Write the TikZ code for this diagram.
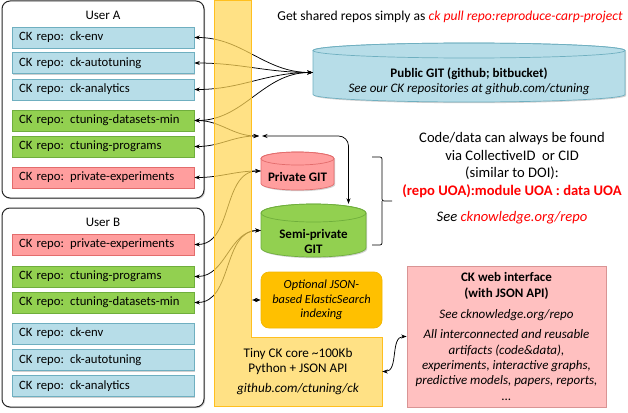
\documentclass[tikz,border=0pt]{standalone}
\usepackage{fontspec}
\setmainfont{Carlito}
\usetikzlibrary{arrows.meta,shadows}

\begin{document}
\begin{tikzpicture}[x=1pt,y=1pt]
    % -----------------------------
    % Parameters (tweak as needed)
    % -----------------------------
    \def\lw{0.7pt}       % line width of boxes
    \def\repoX{103}      % centre x of all repo boxes
    \def\userW{202}      % width of the user frames

    % Colours
    \definecolor{blueFill}{HTML}{B7DDE8}
    \definecolor{blueDraw}{HTML}{6FAFC0}
    \definecolor{greenFill}{HTML}{92D050}
    \definecolor{greenDraw}{HTML}{6FAE3C}
    \definecolor{redFill}{HTML}{FF9E9E}
    \definecolor{redDraw}{HTML}{E36C6C}
    \definecolor{idxFill}{HTML}{FFC000}
    \definecolor{idxDraw}{HTML}{F2B600}
    \definecolor{webFill}{HTML}{FFC0C0}
    \definecolor{webDraw}{HTML}{D99494}
    \definecolor{coreFill}{HTML}{FFD656}
    \definecolor{coreDraw}{HTML}{FFBF1F}
    \definecolor{ckred}{HTML}{FF0000}

    % -----------------------------
    % Styles and helpers
    % -----------------------------
    \tikzset{
      softshadow/.style={drop shadow={shadow xshift=1.2pt, shadow yshift=-1.2pt, opacity=0.3, fill=black!60}},
      userbox/.style={draw=black!85, line width=1pt, rounded corners=8pt, fill=white,
                      minimum width=\userW, softshadow},
      repo/.style={line width=\lw, minimum height=21pt, text width=168pt, inner xsep=7pt,
                   inner ysep=0pt, align=left, font=\fontsize{12.7}{14}\selectfont, softshadow},
      bluerepo/.style={repo, draw=blueDraw, fill=blueFill},
      greenrepo/.style={repo, draw=greenDraw, fill=greenFill},
      redrepo/.style={repo, draw=redDraw, fill=redFill},
      label13/.style={align=center, font=\fontsize{13}{15}\selectfont},
      link/.style={{Stealth[length=5.5pt,width=4pt]}-{Stealth[length=5.5pt,width=4pt]}, line width=0.75pt},
    }

    % Cylinder for a git store: name, left, top, right, bottom, cap radius, fill, draw
    \newcommand{\gitcyl}[8]{%
      \pgfmathsetmacro{\cylcx}{(#2+#4)/2}
      \pgfmathsetmacro{\cylrx}{(#4-#2)/2}
      \filldraw[fill=#7, draw=#8, line width=\lw, softshadow] (#2,-#3-#6) -- (#2,-#5+#6)
        arc[start angle=180, end angle=360, x radius=\cylrx, y radius=#6]
        -- (#4,-#3-#6)
        arc[start angle=0, end angle=180, x radius=\cylrx, y radius=#6] -- cycle;
      \draw[draw=#8, line width=\lw] (\cylcx,-#3-#6) ellipse[x radius=\cylrx, y radius=#6];
      \node[inner sep=0pt, minimum width=#4-#2, minimum height=#5-#3] (#1) at (\cylcx,{-(#3+#5)/2}) {};
    }

    \useasboundingbox (0,0) rectangle (628,-412);

    % -----------------------------
    % User frames
    % -----------------------------
    \node[userbox, minimum height=197] (userA) at (\repoX,-99.5) {};
    \node[userbox, minimum height=199] (userB) at (\repoX,-307.5) {};
    \node[label13] (userAtitle) at (\repoX,-15) {User A};
    \node[label13] (userBtitle) at (\repoX,-222) {User B};

    % Repos of user A
    \node[bluerepo]  (a-env)  at (\repoX,-37.5)  {CK repo:\kern2pt\ ck-env};
    \node[bluerepo]  (a-tune) at (\repoX,-63)    {CK repo:\kern2pt\ ck-autotuning};
    \node[bluerepo]  (a-ana)  at (\repoX,-89.5)  {CK repo:\kern2pt\ ck-analytics};
    \node[greenrepo] (a-data) at (\repoX,-120.5) {CK repo:\kern2pt\ ctuning-datasets-min};
    \node[greenrepo] (a-prog) at (\repoX,-146.5) {CK repo:\kern2pt\ ctuning-programs};
    \node[redrepo]   (a-priv) at (\repoX,-177.5) {CK repo:\kern2pt\ private-experiments};

    % Repos of user B
    \node[redrepo]   (b-priv) at (\repoX,-244.5) {CK repo:\kern2pt\ private-experiments};
    \node[greenrepo] (b-prog) at (\repoX,-276.5) {CK repo:\kern2pt\ ctuning-programs};
    \node[greenrepo] (b-data) at (\repoX,-302.5) {CK repo:\kern2pt\ ctuning-datasets-min};
    \node[bluerepo]  (b-env)  at (\repoX,-333.5) {CK repo:\kern2pt\ ck-env};
    \node[bluerepo]  (b-tune) at (\repoX,-360)   {CK repo:\kern2pt\ ck-autotuning};
    \node[bluerepo]  (b-ana)  at (\repoX,-386)   {CK repo:\kern2pt\ ck-analytics};

    % -----------------------------
    % Git stores
    % -----------------------------
    \gitcyl{pubgit}{313}{43}{625}{102}{7.5}{blueFill}{blueDraw}
    \gitcyl{priv}{261}{152}{334}{190}{6.5}{redFill}{redDraw}
    \gitcyl{semi}{261}{204}{366}{257}{9}{greenFill}{greenDraw}

    \node[label13] (pubgittext) at (469,-81.5)
      {\textbf{Public GIT (github; bitbucket)}\\ \textit{See our CK repositories at github.com/ctuning}};
    \node[label13] (privtext) at (297.5,-177) {\textbf{Private GIT}};
    \node[label13] (semitext) at (313.5,-241.5) {\textbf{Semi-private}\\ \textbf{GIT}};

    % Search index and web front end
    \node[draw=idxDraw, fill=idxFill, line width=\lw, rounded corners=8pt,
          minimum width=121, minimum height=56, align=center,
          font=\fontsize{12.4}{14.5}\selectfont\itshape] (idx) at (321.5,-300)
      {Optional JSON-\\ based ElasticSearch\\ indexing};
    \node[draw=webDraw, fill=webFill, line width=\lw, softshadow,
          minimum width=199, minimum height=141, align=center,
          font=\fontsize{13}{15.3}\selectfont] (web) at (506.5,-336.5)
      {\textbf{CK web interface}\\ \textbf{(with JSON API)}\\[5.5pt]
       \textit{See cknowledge.org/repo}\\[5.5pt]
       \textit{All interconnected and reusable}\\ \textit{artifacts (code\&data),}\\
       \textit{experiments, interactive graphs,}\\ \textit{predictive models, papers, reports,}\\
       \textit{...}};

    % -----------------------------
    % Texts on the right
    % -----------------------------
    \node[font=\fontsize{13.6}{15}\selectfont] (pulltext) at (450,-17)
      {Get shared repos simply as {\color{ckred}\itshape ck pull repo:reproduce-carp-project}};
    \node[align=center, font=\fontsize{14.6}{17.5}\selectfont] (cidtext) at (512,-178.5)
      {Code/data can always be found\\ via CollectiveID\ \ or CID\\ (similar to DOI):\\
       \textcolor{ckred}{\textbf{(repo UOA):module UOA : data UOA}}\\[9pt]
       \textit{See \textcolor{ckred}{cknowledge.org/repo}}};

    % Brace joining private and semi-private stores
    \coordinate (braceTop) at (372,-157);
    \coordinate (braceBot) at (372,-245);
    \coordinate (braceTip) at (392,-201);
    \draw[line width=\lw, rounded corners=2pt] (braceTop) -| (382,-201) -- (braceTip);
    \draw[line width=\lw, rounded corners=2pt] (braceBot) -| (382,-201);

    % -----------------------------
    % Connectors
    % -----------------------------
    \draw[link] (a-env.east)  to[out=0,in=180] (pubgit.west);
    \draw[link] (a-tune.east) to[out=0,in=180] (pubgit.west);
    \draw[link] (a-ana.east)  to[out=0,in=180] (pubgit.west);
    \draw[link] (a-data.east) to[out=0,in=180] (pubgit.west);

    \coordinate (hubIn)  at (259,-136);
    \coordinate (hubOut) at (262,-136);
    \draw[link] (a-data.east) to[out=0,in=180] (hubIn);
    \draw[link] (a-prog.east) to[out=0,in=180] (hubIn);
    \draw[link, rounded corners=10pt] (hubOut) -| ([xshift=35pt]semi.north);

    \draw[link] (a-priv.east) to[out=0,in=180] (priv.west);
    \draw[link] (b-priv.east) to[out=0,in=180] (priv.west);
    \draw[link] (b-prog.east) to[out=0,in=180] (semi.west);
    \draw[link] (b-data.east) to[out=0,in=180] (semi.west);

    \coordinate (idxTail) at (252,-300);
    \draw[link] (idxTail) -- (idx.west);

    % -----------------------------
    % CK core band (laid over the wires)
    % -----------------------------
    \filldraw[fill=coreFill, fill opacity=0.72, draw=coreDraw, line width=\lw]
      (214,-0.5) -- (251,-0.5) -- (251,-337) -- (382,-337) -- (382,-406) -- (214,-406) -- cycle;
    \node[align=center, font=\fontsize{13.2}{15}\selectfont, minimum width=168, minimum height=69]
      (core) at (298,-371.5)
      {Tiny CK core \textasciitilde100Kb\\ Python + JSON API\\[5pt] \textit{github.com/ctuning/ck}};

    \draw[link] (core.east) to[out=0,in=180] (web.west);

\end{tikzpicture}
\end{document}
